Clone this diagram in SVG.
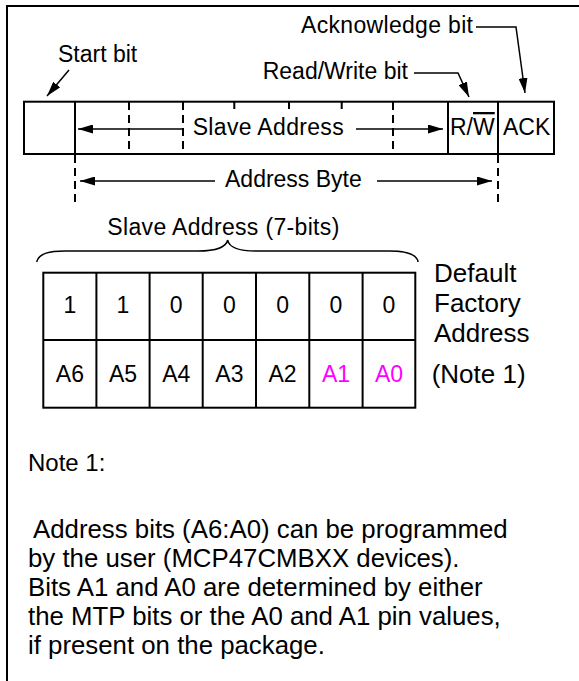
<svg xmlns="http://www.w3.org/2000/svg" width="579" height="681" viewBox="0 0 579 681">
<style>
text{font-family:"Liberation Sans",Arial,sans-serif;font-size:23px;fill:#000}
.c{text-anchor:middle}
.m{fill:#FF00FF}
.big{font-size:26px}
.n{font-size:25.8px}
.s{fill:none;stroke:#000;stroke-width:2}
.d{fill:none;stroke:#000;stroke-width:2;stroke-dasharray:8,5}
.t{fill:none;stroke:#000;stroke-width:1.5}
.ar{fill:none;stroke:#000;stroke-width:1.5}
</style>
<defs>
<marker id="ah" markerWidth="15" markerHeight="9" refX="15" refY="4.5" orient="auto" markerUnits="userSpaceOnUse">
<path d="M0,0 L15,4.5 L0,9 z" fill="#000"/>
</marker>
</defs>
<rect width="579" height="681" fill="#fff"/>
<g id="frame">
<path class="s" d="M7,681 V6 H579"/>
</g>
<g id="address-byte-bar">
<line class="d" x1="129" y1="102" x2="129" y2="154"/>
<line class="d" x1="183" y1="102" x2="183" y2="154"/>
<line class="d" x1="234.3" y1="102" x2="234.3" y2="154"/>
<line class="d" x1="289" y1="102" x2="289" y2="154"/>
<line class="d" x1="341.7" y1="102" x2="341.7" y2="154"/>
<line class="d" x1="393" y1="102" x2="393" y2="154"/>
<rect x="187" y="109" width="162" height="40" fill="#fff"/>
<rect class="s" x="24" y="101.7" width="530" height="52.3"/>
<line class="s" x1="75" y1="101.7" x2="75" y2="154"/>
<line class="s" x1="448" y1="101.7" x2="448" y2="154"/>
<line class="s" x1="498" y1="101.7" x2="498" y2="154"/>
<text x="192.7" y="135" textLength="151">Slave Address</text>
<text x="450" y="135">R/<tspan style="text-decoration:overline">W</tspan></text>
<text x="503" y="135">ACK</text>
</g>
<g id="labels">
<text x="58" y="62">Start bit</text>
<text x="301" y="33" textLength="172">Acknowledge bit</text>
<text x="262.7" y="79">Read/Write bit</text>
<text x="225" y="187">Address Byte</text>
</g>
<g id="connectors">
<line class="ar" x1="69" y1="70" x2="47" y2="96" marker-end="url(#ah)"/>
<polyline class="ar" points="476,27 516,27 525,93" marker-end="url(#ah)"/>
<polyline class="ar" points="414,73 458,73 469,97" marker-end="url(#ah)"/>
<line class="ar" x1="183" y1="129" x2="78" y2="129" marker-end="url(#ah)"/>
<line class="ar" x1="356" y1="129" x2="443" y2="129" marker-end="url(#ah)"/>
<line class="ar" x1="215" y1="181" x2="80" y2="181" marker-end="url(#ah)"/>
<line class="ar" x1="377" y1="181" x2="492" y2="181" marker-end="url(#ah)"/>
<line class="d" x1="75" y1="155" x2="75" y2="205"/>
<line class="d" x1="498" y1="155" x2="498" y2="205"/>
</g>
<g id="slave-address-brace">
<text x="107.3" y="235" textLength="232">Slave Address (7-bits)</text>
<path class="t" d="M36.7,262 C39,253 50,251 65,251 L198,251 C214,251 226,248 227.7,240 C229,248 241,251 256,251 L389,251 C405,251 417,254 418,262"/>
</g>
<g id="address-table">
<rect class="s" x="43.3" y="272.7" width="372" height="135"/>
<line class="s" x1="43.3" y1="340" x2="415.3" y2="340"/>
<line class="s" x1="96.4" y1="272.7" x2="96.4" y2="407.7"/>
<line class="s" x1="149.6" y1="272.7" x2="149.6" y2="407.7"/>
<line class="s" x1="202.7" y1="272.7" x2="202.7" y2="407.7"/>
<line class="s" x1="256" y1="272.7" x2="256" y2="407.7"/>
<line class="s" x1="309.3" y1="272.7" x2="309.3" y2="407.7"/>
<line class="s" x1="362.6" y1="272.7" x2="362.6" y2="407.7"/>
<text class="c" x="69.9" y="313">1</text>
<text class="c" x="123" y="313">1</text>
<text class="c" x="176.2" y="313">0</text>
<text class="c" x="229.4" y="313">0</text>
<text class="c" x="282.6" y="313">0</text>
<text class="c" x="336" y="313">0</text>
<text class="c" x="389" y="313">0</text>
<text class="c" x="69.9" y="382">A6</text>
<text class="c" x="123" y="382">A5</text>
<text class="c" x="176.2" y="382">A4</text>
<text class="c" x="229.4" y="382">A3</text>
<text class="c" x="282.6" y="382">A2</text>
<text class="c m" x="336" y="382">A1</text>
<text class="c m" x="389" y="382">A0</text>
</g>
<g id="default-label">
<text class="big" x="434" y="282">Default</text>
<text class="big" x="434" y="312">Factory</text>
<text class="big" x="434" y="342">Address</text>
<text class="big" x="431.7" y="383">(Note 1)</text>
</g>
<g id="note">
<text x="28" y="471" style="font-size:24px">Note 1:</text>
<text class="n" x="33" y="538">Address bits (A6:A0) can be programmed</text>
<text class="n" x="28" y="567">by the user (MCP47CMBXX devices).</text>
<text class="n" x="28" y="596">Bits A1 and A0 are determined by either</text>
<text class="n" x="28" y="625">the MTP bits or the A0 and A1 pin values,</text>
<text class="n" x="28" y="654">if present on the package.</text>
</g>
</svg>
